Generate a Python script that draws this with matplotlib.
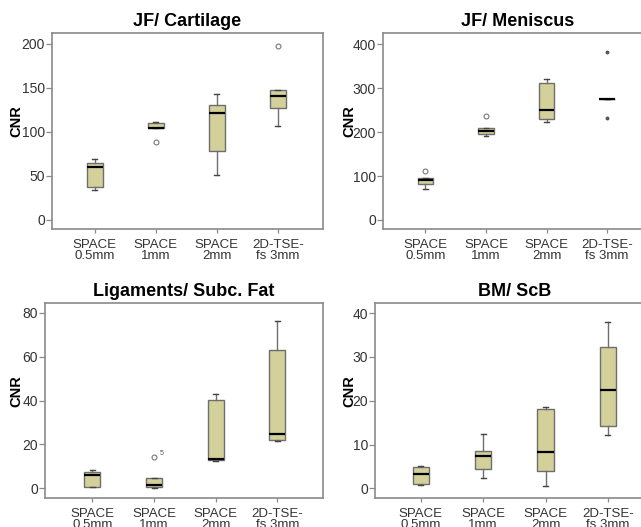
import matplotlib
matplotlib.use("Agg")
import matplotlib.pyplot as plt

plt.rcParams["font.family"] = ["Liberation Sans", "DejaVu Sans"]

categories = ["SPACE\n0.5mm", "SPACE\n1mm", "SPACE\n2mm", "2D-TSE-\nfs 3mm"]
titles = ["JF/ Cartilage", "JF/ Meniscus", "Ligaments/ Subc. Fat", "BM/ ScB"]

# per box: whisker low, Q1, median, Q3, whisker high
cartilage_stats = [
    [34.2, 36.8, 60.0, 64.1, 69.1],
    [104.0, 104.0, 104.4, 110.4, 111.2],
    [51.2, 78.6, 121.4, 130.2, 143.0],
    [106.3, 126.4, 140.4, 147.6, 147.6],
]
cartilage_outliers = [[], [88.8], [], [197.0]]

meniscus_stats = [
    [70.6, 82.7, 90.3, 94.9, 94.9],
    [190.5, 196.6, 202.7, 208.7, 208.7],
    [222.4, 230.0, 251.2, 312.0, 321.0],
    [274.8, 274.8, 274.8, 274.8, 274.8],
]
meniscus_outliers = [[112.3], [237.6], [], []]
meniscus_extremes = [[], [], [], [231.5, 381.8]]

ligament_stats = [
    [0.6, 0.6, 5.9, 7.6, 8.2],
    [0.0, 0.5, 1.4, 4.7, 4.7],
    [12.4, 12.9, 13.5, 40.5, 42.9],
    [21.7, 22.1, 25.0, 62.9, 76.2],
]
ligament_outliers = [[], [14.4], [], []]

bm_stats = [
    [0.8, 1.0, 3.3, 4.8, 5.0],
    [2.3, 4.5, 7.3, 8.6, 12.3],
    [0.6, 4.0, 8.3, 18.0, 18.6],
    [12.2, 14.3, 22.4, 32.2, 38.0],
]
bm_outliers = [[], [], [], []]

W, H = 641, 527
fig = plt.figure(figsize=(W / 100, H / 100), dpi=100)


def px_axes(left, top, right, bottom):
    return fig.add_axes([left / W, 1 - bottom / H, (right - left) / W, (bottom - top) / H])


box_fill = "#d4d09a"
edge = "#6e6e6e"
spine_col = "#8a8a8a"


def draw_panel(ax, title, stats, outliers, extremes, yticks, ylim, xlim, label_x):
    positions = range(1, len(categories) + 1)
    for pos, s, out, ext in zip(positions, stats, outliers, extremes):
        d = dict(whislo=s[0], q1=s[1], med=s[2], q3=s[3], whishi=s[4], fliers=[])
        ax.bxp([d], positions=[pos], widths=0.26, patch_artist=True,
               boxprops=dict(facecolor=box_fill, edgecolor=edge, linewidth=1.0),
               medianprops=dict(color="black", linewidth=1.6),
               whiskerprops=dict(color=edge, linewidth=1.0),
               capprops=dict(color="#444444", linewidth=1.0),
               capwidths=0.08, showfliers=False)
        if out:
            ax.plot([pos] * len(out), out, "o", ms=3.5, mfc="none", mec="#777777", mew=0.8)
        if ext:
            ax.plot([pos] * len(ext), ext, "o", ms=1.8, color="#555555")
    ax.set_xlim(*xlim)
    ax.set_ylim(*ylim)
    ax.set_yticks(yticks)
    ax.set_xticks(list(positions))
    ax.set_xticklabels(categories, linespacing=0.95)
    ax.tick_params(axis="both", colors=spine_col, labelcolor="#333333",
                   labelsize=10, length=4, width=0.9, direction="out")
    ax.tick_params(axis="x", length=3, pad=4, labelsize=9.5)
    ax.tick_params(axis="y", pad=1)
    for sp in ax.spines.values():
        sp.set_color(spine_col)
        sp.set_linewidth(1.2)
    ax.set_title(title, fontsize=13, fontweight="bold", pad=5)
    ax.set_ylabel("CNR", fontsize=10.5, fontweight="bold")
    ax.yaxis.set_label_coords(label_x, 0.55)


ax1 = px_axes(52, 33, 323, 229)
draw_panel(ax1, titles[0], cartilage_stats, cartilage_outliers, [[]] * 4,
           [0, 50, 100, 150, 200], (-10.3, 212), (0.30, 4.74), -0.107)

ax2 = px_axes(383, 33, 652, 229)
draw_panel(ax2, titles[1], meniscus_stats, meniscus_outliers, meniscus_extremes,
           [0, 100, 200, 300, 400], (-20.5, 425.7), (0.30, 4.74), -0.098)

ax3 = px_axes(45, 303, 323, 498)
draw_panel(ax3, titles[2], ligament_stats, ligament_outliers, [[]] * 4,
           [0, 20, 40, 60, 80], (-4.4, 84.5), (0.23, 4.74), -0.078)
ax3.text(2.09, 15.2, "5", fontsize=5, color="#555555")

ax4 = px_axes(375, 303, 654, 498)
draw_panel(ax4, titles[3], bm_stats, bm_outliers, [[]] * 4,
           [0, 10, 20, 30, 40], (-2.2, 42.3), (0.265, 4.74), -0.066)

fig.savefig("out.png", dpi=100)
